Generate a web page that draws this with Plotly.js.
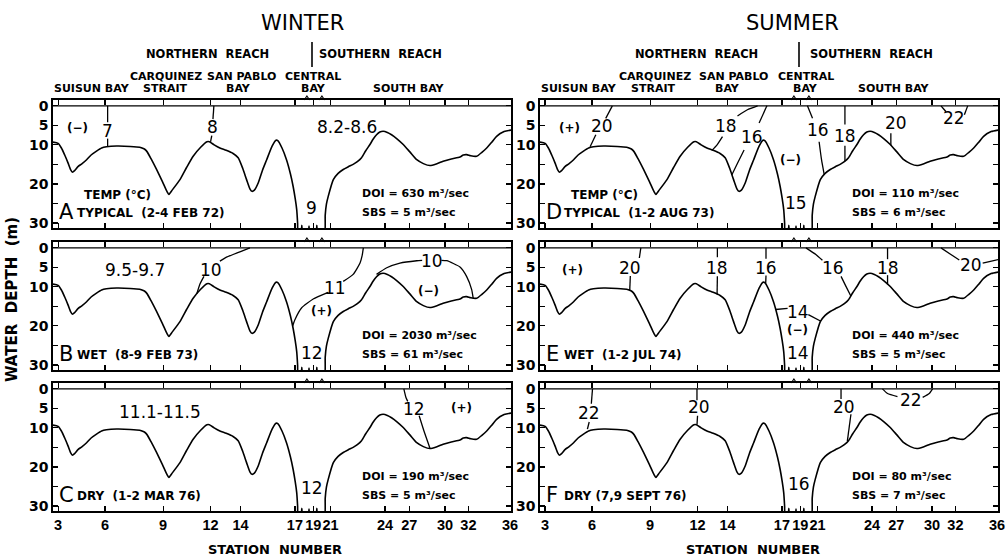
<!DOCTYPE html>
<html><head><meta charset="utf-8">
<script src="https://cdn.plot.ly/plotly-3.0.1.min.js"></script>
<style>html,body{margin:0;padding:0;background:#fff}</style>
</head><body>
<div id="chart" style="width:1008px;height:557px"></div>
<script>
// ---------- DATA ----------
const stationNumbers = ['3','6','9','12','14','17','19','21','24','27','30','32','36'];
const stationKm = [0, 15.6, 35, 50.8, 60.8, 78.9, 85, 90.8, 108.9, 117, 128.9, 136.7, 150.6];

const bathyKm = [-1.7,0,1.1,2.2,3.3,4.2,4.8,5.5,6.7,8,9.5,11,12.8,14.5,16.1,19.5,24,27.2,28.6,29.5,31,32.8,34.8,36.3,36.9,37.8,40.6,42.8,45,47.5,49.6,50.4,52,53.9,56,58.3,60,61.5,62.8,64,64.6,65.4,66.7,68.1,69.5,71.3,72.6,73.2,74.6,76.1,77.4,78.3,79,79.5,79.8,80,80.9,81.2,81.5,83.3,83.6,83.9,85.9,86.2,86.5,88.7,89,89.4,90,91.7,93.3,95,96.7,98.3,99.7,101.1,102.5,103.9,105,106.1,107.2,108.3,109.7,111.1,113,115,117.2,119.5,121.7,123.9,126,128.3,131,133.9,135,136.1,137.5,139.5,141.2,142.8,144.5,146.1,148.6,151];
const bathyDepth = [9.3,9.6,10.8,12.6,14.6,16.4,17,16.6,15.5,14.8,13.8,12.6,11.6,10.8,10.5,10.3,10.4,10.6,11,11.6,13.6,16.3,19.5,22,22.7,21.8,18.9,15.8,12.9,10.6,9.2,9.2,10,10.8,11.4,12.2,13.3,16,18.9,21.4,21.9,21.6,19.7,16.5,13.8,10.3,8.8,8.9,10.8,13.8,17.4,20.6,23.8,26.6,30,33,33,30.6,33,33,30.8,33,33,30.6,33,33,28,25.2,23.2,18.9,17.3,16.3,15.6,15,14.3,13.3,11.5,9.9,8.5,7.4,6.7,6.5,6.8,7.4,8.5,9.9,11.8,13.8,14.8,15.3,14.9,14.2,13.6,13.1,12.6,12.5,12.8,12.9,11.9,10.8,9.3,7.8,6.6,6.2];

// isotherm segments per panel (km, depth m)
const isoA = [
  {x:[16.5,16.5], y:[0,4.2]}, {x:[16.5,16.5], y:[8.4,10.5]},
  {x:[51.9,51.6], y:[0,3.4]}, {x:[51.2,50.8], y:[7.6,9.2]}
];
const isoB = [
  {x:[63.9,61,58.3,55.8,53.9], y:[0,0.9,1.7,2.5,3.4]},
  {x:[48.6,47.3,46.2], y:[7.3,9.2,11.8]},
  {x:[101.7,101.3,100.6,98.3,95], y:[0,2,3.9,6.8,8.6]},
  {x:[90,85,81.1,78.9,78.1], y:[11.4,13.1,15.4,18.4,20.1]},
  {x:[106.1,109.5,113.9,119.5,121.3], y:[6.8,5.1,3.9,3.3,3.2]},
  {x:[127.7,129.5,133.9,136.1,137.8,138.3], y:[3.2,3.3,4.9,7.3,10.7,12.9]}
];
const isoC = [
  {x:[115.2,115.9,116.5], y:[0,2.2,3.2]},
  {x:[120.3,121.9,123.9], y:[6.9,10.8,15.2]}
];
const isoD = [
  {x:[22.4,20.2], y:[0,3.2]}, {x:[16.9,15], y:[7.4,10.5]},
  {x:[70.8,67.4,64.1], y:[0,1,2.6]}, {x:[59.1,57.3,55.6], y:[7.9,10,11.4]},
  {x:[73.9,71.3], y:[0,4.4]}, {x:[66.3,64.1,62.2], y:[11.3,14.7,17.7]},
  {x:[87.4,89.1], y:[0,3.2]}, {x:[91.3,92.1,93], y:[9.2,13.8,17.6]},
  {x:[99.9,99.9], y:[0,4.8]}, {x:[99.9,99.9], y:[10.2,14.2]},
  {x:[115.2,115.2], y:[7,10.1]},
  {x:[131.9,132.8,133.6], y:[0,0.8,1.5]}, {x:[139.7,140.8], y:[2.3,0]}
];
const isoE = [
  {x:[31.9,31.4], y:[0,2.6]}, {x:[28.4,28.2], y:[7.2,10.9]},
  {x:[57.4,57.4], y:[0,2.4]}, {x:[57.4,57.3], y:[7.3,11.9]},
  {x:[73.6,73.6], y:[0,2.8]}, {x:[73.6,73.5], y:[7.1,9.1]},
  {x:[76.8,80.8], y:[15.8,15.5]}, {x:[87.7,91.9], y:[17.1,18.8]},
  {x:[86.9,90.2,92.4], y:[0,1.7,3.2]}, {x:[98.6,100.2,101.9], y:[7.3,9.8,12.4]},
  {x:[114.1,114.1], y:[0,2.9]}, {x:[114.1,114.1], y:[7,9.4]},
  {x:[131.9,135.2,138], y:[0,1.7,3.1]}, {x:[145.8,148,151], y:[3.9,3.5,3.0]}
];
const isoF = [
  {x:[15.8,15.4], y:[0,3.8]}, {x:[14.7,14.1], y:[8.5,10.3]},
  {x:[50.6,50.6], y:[0,2.9]}, {x:[50.8,50.6], y:[6.9,9.2]},
  {x:[98.6,98.6], y:[0,2.6]}, {x:[101.9,100.7], y:[6.5,13.4]},
  {x:[112.4,114.1,117.4], y:[0,1.2,2.0]}, {x:[125.8,128,129.1], y:[2.2,1.2,0]}
];

// temperature labels [text, km, depth]
const tempA = [['(−)',6.6,5.6],['7',16.5,6.4],['8',51.5,5.4],['8.2-8.6',96.1,5.4],['9',84.5,26.2]];
const tempB = [['9.5-9.7',25.6,5.6],['10',51.1,5.6],['11',92.2,10.3],['(+)',87.8,16.3],['12',84.5,26.9],['10',124.5,3.3],['(−)',123.3,11.1]];
const tempC = [['11.1-11.5',34.1,5.9],['12',118.7,5.2],['(+)',134.5,5],['12',84.5,25.3]];
const tempD = [['(+)',8,5.7],['20',18.9,5.1],['18',60.2,5.1],['16',68.8,7.9],['(−)',81.9,13.8],['16',90.8,6.2],['18',99.9,7.6],['20',116.9,4.4],['22',136.3,3.0],['15',83.6,25]];
const tempE = [['(+)',9.1,5.6],['20',28.3,5.1],['18',57.4,5.1],['16',73.6,5.1],['14',84.1,16.4],['(−)',84.1,21.0],['14',84.1,26.9],['16',95.8,5.1],['18',114.1,5.1],['20',141.9,4.3]];
const tempF = [['22',14.7,6.3],['20',51.3,4.6],['20',99.7,4.6],['22',121.9,2.9],['16',84.7,24.3]];

const panelLetters = ['A','B','C','D','E','F'];
const panelDesc = ['TYPICAL  (2-4 FEB 72)','WET  (8-9 FEB 73)','DRY  (1-2 MAR 76)','TYPICAL  (1-2 AUG 73)','WET  (1-2 JUL 74)','DRY (7,9 SEPT 76)'];
const doiFlow = [630, 2030, 190, 110, 440, 80];
const sbsFlow = [5, 61, 5, 6, 5, 7];
const depthTicks = [0,5,10,15,20,25,30];
const depthTickText = ['0','5','10','','20','','30'];

// ---------- LAYOUT ----------
const W = 1008, H = 557;
const px = v => v / W, py = v => 1 - v / H;
const colDom = [[px(53), px(511)], [px(540), px(998)]];
const rowDom = [[py(228), py(100)], [py(370), py(242)], [py(511), py(383)]];
const isoSets = [isoA, isoB, isoC, isoD, isoE, isoF];
const tempSets = [tempA, tempB, tempC, tempD, tempE, tempF];

const traces = [], annotations = [], shapes = [];
const layout = {
  width: W, height: H, margin: {l:0, r:0, t:0, b:0},
  paper_bgcolor: '#fff', plot_bgcolor: '#fff', showlegend: false,
  font: {family: 'DejaVu Sans', color: '#000'}
};

for (let i = 0; i < 6; i++) {
  const col = i < 3 ? 0 : 1, row = i % 3;
  const sfx = i === 0 ? '' : String(i + 1);
  const xa = 'x' + sfx, ya = 'y' + sfx;
  layout['xaxis' + sfx] = {
    domain: colDom[col], anchor: ya, range: [-1.7, 150.9],
    tickvals: stationKm, ticktext: stationNumbers, tickangle: 0,
    showticklabels: row === 2, ticks: 'inside', ticklen: 5, tickwidth: 1.2,
    tickcolor: '#000', showline: true, mirror: 'ticks', linecolor: '#000', linewidth: 1.6,
    showgrid: false, zeroline: false,
    tickfont: {family: 'Liberation Sans', size: 14.5, weight: 'bold', color: '#000'}
  };
  layout['yaxis' + sfx] = {
    domain: rowDom[row], anchor: xa, range: [31.3, -1.5],
    tickvals: depthTicks, ticktext: depthTickText,
    ticks: 'inside', ticklen: 5, tickwidth: 1.2, tickcolor: '#000',
    showline: true, mirror: 'ticks', linecolor: '#000', linewidth: 1.6,
    showgrid: false, zeroline: false,
    tickfont: {family: 'DejaVu Sans', size: 14, weight: 'bold', color: '#000'}
  };
  // bathymetry
  traces.push({x: bathyKm, y: bathyDepth, xaxis: xa, yaxis: ya, mode: 'lines',
    line: {color: '#000', width: 1.6, shape: 'spline', smoothing: 0.6}, hoverinfo: 'skip'});
  // isotherms
  isoSets[i].forEach(s => traces.push({x: s.x, y: s.y, xaxis: xa, yaxis: ya, mode: 'lines',
    line: {color: '#000', width: 1.3, shape: 'spline', smoothing: 0.5}, hoverinfo: 'skip'}));
  // surface line
  shapes.push({type: 'line', xref: xa + ' domain', yref: ya, x0: 0, x1: 1, y0: 0, y1: 0,
    line: {color: '#000', width: 1.4}});
  // small marks on the top frame (Central Bay)
  [82.9, 87.9].forEach(k => {
    const yt = rowDom[row][1];
    shapes.push({type: 'path', xref: xa, yref: 'paper',
      path: `M ${k-0.9},${yt} L ${k},${yt + 4/H} L ${k+0.9},${yt}`,
      line: {color: '#000', width: 1.1}});
  });
  // temperature labels
  tempSets[i].forEach(t => {
    const small = t[0].startsWith('(');
    annotations.push({xref: xa, yref: ya, x: t[1], y: t[2], text: t[0], showarrow: false,
      xanchor: 'center', yanchor: 'middle',
      font: small ? {family: 'DejaVu Sans', size: 12, weight: 'bold', color: '#000'}
                  : {family: 'DejaVu Sans', size: 17, color: '#000'}});
  });
  // panel letter and description
  annotations.push({xref: xa, yref: ya, x: -0.5, y: 27.3, text: panelLetters[i], showarrow: false,
    xanchor: 'left', yanchor: 'middle', font: {family: 'DejaVu Sans', size: 21, color: '#000'}});
  annotations.push({xref: xa, yref: ya, x: 5.6, y: 27.5, text: panelDesc[i], showarrow: false,
    xanchor: 'left', yanchor: 'middle', font: {family: 'DejaVu Sans', size: 12, weight: 'bold', color: '#000'}});
  if (row === 0) {
    annotations.push({xref: xa, yref: ya, x: 8, y: 22.8, text: 'TEMP (°C)', showarrow: false,
      xanchor: 'left', yanchor: 'middle', font: {family: 'DejaVu Sans', size: 12, weight: 'bold', color: '#000'}});
  }
  const dx = col === 0 ? 100.5 : 101.5;
  annotations.push({xref: xa, yref: ya, x: dx, y: 22.5, text: 'DOI = ' + doiFlow[i] + ' m³/sec', showarrow: false,
    xanchor: 'left', yanchor: 'middle', font: {family: 'DejaVu Sans', size: 11, weight: 'bold', color: '#000'}});
  annotations.push({xref: xa, yref: ya, x: dx, y: 27.3, text: 'SBS = ' + sbsFlow[i] + ' m³/sec', showarrow: false,
    xanchor: 'left', yanchor: 'middle', font: {family: 'DejaVu Sans', size: 11, weight: 'bold', color: '#000'}});
}

// header texts (pixel positions)
const headerText = [
  ['WINTER',302,23,21,'normal'], ['SUMMER',792,23,21,'normal'],
  ['NORTHERN  REACH',207,54,11.5,'bold'], ['SOUTHERN  REACH',380,54,11.5,'bold'],
  ['NORTHERN  REACH',696,54,11.5,'bold'], ['SOUTHERN  REACH',871,54,11.5,'bold'],
  ['CARQUINEZ',166,76,11,'bold'], ['SAN PABLO',241,76,11,'bold'], ['CENTRAL',313,76,11,'bold'],
  ['CARQUINEZ',655,76,11,'bold'], ['SAN PABLO',733,76,11,'bold'], ['CENTRAL',806,76,11,'bold'],
  ['SUISUN BAY',92,89,11,'bold'], ['STRAIT',165,89,11,'bold'], ['BAY',238,89,11,'bold'], ['BAY',313,89,11,'bold'], ['SOUTH BAY',409,89,11,'bold'],
  ['SUISUN BAY',579,89,11,'bold'], ['STRAIT',653,89,11,'bold'], ['BAY',727,89,11,'bold'], ['BAY',805,89,11,'bold'], ['SOUTH BAY',894,89,11,'bold'],
  ['STATION  NUMBER',275,549,13,'bold'], ['STATION  NUMBER',753,549,13,'bold']
];
headerText.forEach(h => annotations.push({xref: 'paper', yref: 'paper', x: px(h[1]), y: py(h[2]),
  text: h[0], showarrow: false, xanchor: 'center', yanchor: 'middle',
  font: {family: 'DejaVu Sans', size: h[3], weight: h[4], color: '#000'}}));
annotations.push({xref: 'paper', yref: 'paper', x: px(12), y: py(300), text: 'WATER  DEPTH  (m)',
  textangle: -90, showarrow: false, xanchor: 'center', yanchor: 'middle',
  font: {family: 'DejaVu Sans', size: 15, weight: 'bold', color: '#000'}});

// reach dividers
[312, 799].forEach(x => shapes.push({type: 'line', xref: 'paper', yref: 'paper',
  x0: px(x), x1: px(x), y0: py(42), y1: py(67), line: {color: '#000', width: 1.6}}));

layout.annotations = annotations;
layout.shapes = shapes;
Plotly.newPlot('chart', traces, layout, {staticPlot: true, displayModeBar: false});
</script>
</body></html>
